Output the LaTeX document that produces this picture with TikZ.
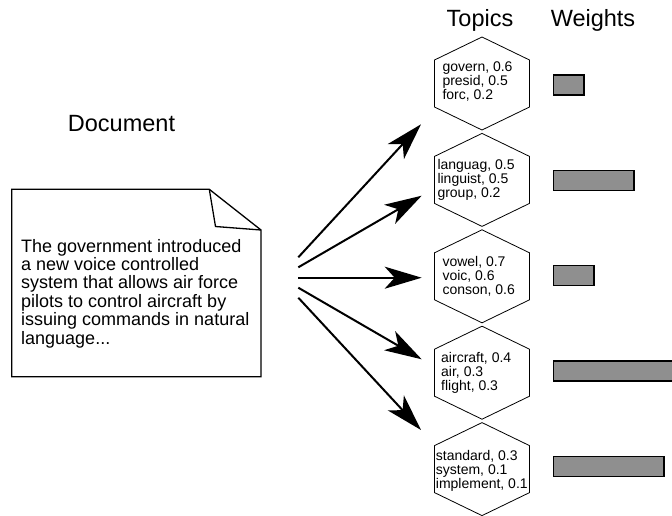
\documentclass[tikz,border=0pt]{standalone}
\usepackage{fontspec}
\setmainfont{Liberation Sans}
\usetikzlibrary{arrows.meta,calc}
\tikzset{
  title/.style={font=\fontsize{23.5pt}{26pt}\selectfont, anchor=base, inner sep=0pt},
  doctext/.style={font=\fontsize{18pt}{18.35pt}\selectfont, align=left, anchor=west, inner sep=0pt},
  hextext/.style={font=\fontsize{14pt}{14pt}\selectfont, align=left, anchor=west, inner sep=0pt},
  hexline/.style={draw=black, line width=0.8pt},
  docline/.style={draw=black, line width=1.3pt, line join=miter},
  bar/.style={draw=black, fill=bargray, line width=1.3pt, inner sep=0pt, minimum height=20pt, anchor=west},
  fanarrow/.style={draw=black, line width=2pt, -{Stealth[length=37pt,width=22pt,inset=10pt]}},
}
\definecolor{bargray}{HTML}{8F8F8F}
\begin{document}
\begin{tikzpicture}[x=1pt,y=-1pt]
\useasboundingbox (0,0) rectangle (672,515);
% titles
\node[title] (ttopics) at (480,26.7) {Topics};
\node[title] (tweights) at (593,26.7) {Weights};
\node[title] (tdoc) at (121.5,131.7) {Document};
% document
\draw[docline] (11.7,189.3) -- (209.3,189.3) -- (261,230) -- (261,376.7) -- (11.7,376.7) -- cycle;
\draw[docline] (209.3,189.3) -- (215.5,226.5) -- (261,230);
\node[doctext] (doc) at (21,293.5) {The government introduced\\a new voice controlled\\system that allows air force\\pilots to control aircraft by\\issuing commands in natural\\language...};
% hexagons
\foreach \i/\cy in {1/83.5,2/179.9,3/276.3,4/372.7,5/469.1}{
  \coordinate (h\i) at (482,\cy);
  \draw[hexline] ($(h\i)+(0,-46.5)$) -- ($(h\i)+(47.5,-23.5)$) -- ($(h\i)+(47.5,23.5)$) -- ($(h\i)+(0,46.5)$) -- ($(h\i)+(-47.5,23.5)$) -- ($(h\i)+(-47.5,-23.5)$) -- cycle;
}
\node[hextext] (t1) at (442.3,81.5) {govern, 0.6\\presid, 0.5\\forc, 0.2};
\node[hextext] (t2) at (437.3,180.2) {languag, 0.5\\linguist, 0.5\\group, 0.2};
\node[hextext] (t3) at (442.3,276.5) {vowel, 0.7\\voic, 0.6\\conson, 0.6};
\node[hextext] (t4) at (441,373) {aircraft, 0.4\\air, 0.3\\flight, 0.3};
\node[hextext] (t5) at (435.7,471) {standard, 0.3\\system, 0.1\\implement, 0.1};
% bars
\node[bar, minimum width=30.6pt] (b1) at (552.7,85) {};
\node[bar, minimum width=80.6pt] (b2) at (552.7,180.3) {};
\node[bar, minimum width=40.6pt] (b3) at (552.7,275.3) {};
\node[bar, minimum width=125pt] (b4) at (552.7,371) {};
\node[bar, minimum width=110.6pt] (b5) at (552.7,466.3) {};
% arrows
\coordinate (s1) at (298.3,257.3); \coordinate (e1) at (421,124.3);
\coordinate (s2) at (298.3,267.3); \coordinate (e2) at (421.7,195.7);
\coordinate (s3) at (298.3,277.7); \coordinate (e3) at (421.7,277.7);
\coordinate (s4) at (298.3,287.7); \coordinate (e4) at (421.7,359.3);
\coordinate (s5) at (298.3,297.7); \coordinate (e5) at (421,430);
\foreach \i in {1,...,5}{ \draw[fanarrow] (s\i) -- (e\i); }
\end{tikzpicture}
\end{document}
